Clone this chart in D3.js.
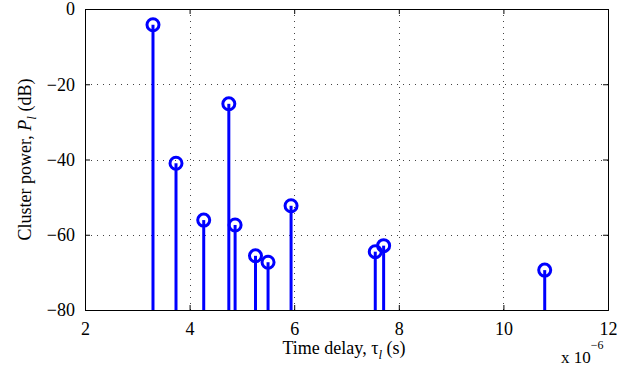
<!DOCTYPE html>
<html>
<head>
<meta charset="utf-8">
<script src="https://cdn.jsdelivr.net/npm/d3@7/dist/d3.min.js"></script>
<style>
  html, body { margin: 0; padding: 0; background: #fff; }
  svg { display: block; }
  svg text { font-family: 'Liberation Serif', 'Times New Roman', 'DejaVu Serif', serif !important; fill: #000; }
</style>
</head>
<body>
<svg id="chart" width="641" height="370"></svg>
<script>
// Cluster delays (in units of 1e-6 s) and cluster powers (dB)
const delays = [3.30, 3.74, 4.27, 4.75, 4.87, 5.26, 5.50, 5.94, 7.55, 7.71, 10.79];
const powers = [-4.2, -41.0, -56.1, -25.2, -57.4, -65.6, -67.3, -52.3, -64.5, -62.9, -69.4];
const xTicks = [2, 4, 6, 8, 10, 12];
const yTicks = [-80, -60, -40, -20, 0];

const svg = d3.select("#chart");
const m = { left: 85, top: 9, right: 608, bottom: 310 };
const x = d3.scaleLinear().domain([2, 12]).range([m.left, m.right]);
const y = d3.scaleLinear().domain([-80, 0]).range([m.bottom, m.top]);
const blue = "#0000ff";
const serif = "'Liberation Serif', 'Times New Roman', serif";

// dotted grid
const grid = svg.append("g").attr("stroke", "#444").attr("stroke-width", 1)
  .attr("stroke-dasharray", "1,5");
grid.selectAll(".gx").data(xTicks.slice(1, -1)).join("line")
  .attr("x1", d => Math.round(x(d)) + 0.5).attr("x2", d => Math.round(x(d)) + 0.5)
  .attr("y1", m.top).attr("y2", m.bottom);
grid.selectAll(".gy").data(yTicks.slice(1, -1)).join("line")
  .attr("y1", d => Math.round(y(d)) + 0.5).attr("y2", d => Math.round(y(d)) + 0.5)
  .attr("x1", m.left).attr("x2", m.right);

// axes with inward ticks on all four sides
const tl = 5;
const ax = [
  svg.append("g").attr("transform", `translate(0,${m.bottom})`)
    .call(d3.axisBottom(x).tickValues(xTicks).tickSize(-tl).tickPadding(12).tickFormat(d3.format("d"))),
  svg.append("g").attr("transform", `translate(0,${m.top})`)
    .call(d3.axisTop(x).tickValues(xTicks).tickSize(-tl).tickFormat("")),
  svg.append("g").attr("transform", `translate(${m.left},0)`)
    .call(d3.axisLeft(y).tickValues(yTicks).tickSize(-tl).tickPadding(10)
      .tickFormat(d => d < 0 ? "\u2212" + Math.abs(d) : d)),
  svg.append("g").attr("transform", `translate(${m.right},0)`)
    .call(d3.axisRight(y).tickValues(yTicks).tickSize(-tl).tickFormat(""))
];
ax.forEach(g => {
  g.attr("font-family", serif).attr("font-size", 18);
  g.select(".domain").attr("stroke", "#000").attr("stroke-width", 1);
  g.selectAll(".tick line").attr("stroke", "#000");
  g.selectAll(".tick text").attr("fill", "#000");
});

// stems
const stems = svg.append("g");
stems.selectAll("line").data(delays).join("line")
  .attr("x1", d => x(d)).attr("x2", d => x(d))
  .attr("y1", y(-80)).attr("y2", (d, i) => y(powers[i]))
  .attr("stroke", blue).attr("stroke-width", 3);
stems.selectAll("circle").data(delays).join("circle")
  .attr("cx", d => x(d)).attr("cy", (d, i) => y(powers[i]))
  .attr("r", 6).attr("fill", "none").attr("stroke", blue).attr("stroke-width", 3);

// axis labels
const xl = svg.append("text").attr("x", 344).attr("y", 354).attr("text-anchor", "middle")
  .attr("font-family", serif).attr("font-size", 18);
xl.append("tspan").text("Time delay, \u03c4");
xl.append("tspan").attr("dy", 5).attr("font-size", 13).attr("font-style", "italic").text("l");
xl.append("tspan").attr("dy", -5).text(" (s)");

const yl = svg.append("text").attr("transform", `translate(31,${(m.top + m.bottom) / 2}) rotate(-90)`)
  .attr("text-anchor", "middle").attr("font-family", serif).attr("font-size", 18);
yl.append("tspan").text("Cluster power,  ");
yl.append("tspan").attr("font-style", "italic").text("P");
yl.append("tspan").attr("dy", 5).attr("font-size", 13).attr("font-style", "italic").text("l");
yl.append("tspan").attr("dy", -5).text(" (dB)");

// exponent note
const ex = svg.append("text").attr("x", 561).attr("y", 363).attr("font-family", serif).attr("font-size", 17);
ex.append("tspan").text("x 10");
ex.append("tspan").attr("dy", -14).attr("font-size", 12).text("\u22126");
</script>
</body>
</html>
